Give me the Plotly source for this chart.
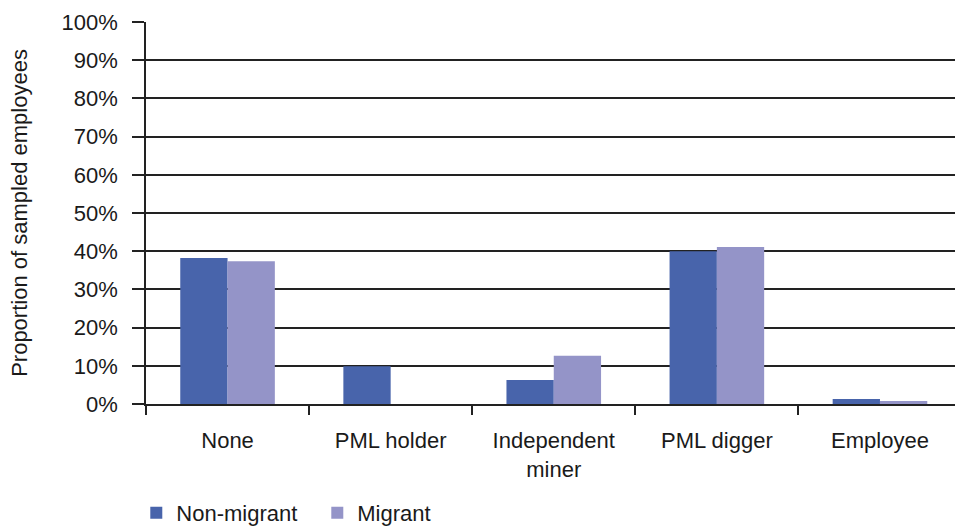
import plotly.graph_objects as go

# occupation before mining, by migrant status
categories = ["None", "PML holder", "Independent<br>miner", "PML digger", "Employee"]
non_migrant = [0.382, 0.099, 0.063, 0.400, 0.013]
migrant = [0.374, 0.0, 0.126, 0.411, 0.008]
y_ticks = [i / 10 for i in range(11)]
y_labels = [f"{i * 10}%" for i in range(11)]

font_family = "Liberation Sans, Arial, sans-serif"

fig = go.Figure()
fig.add_trace(go.Bar(x=categories, y=non_migrant, name="Non-migrant",
                     marker=dict(color="#4864AB", line=dict(width=0))))
fig.add_trace(go.Bar(x=categories, y=migrant, name="Migrant",
                     marker=dict(color="#9494C8", line=dict(width=0))))

fig.update_layout(
    width=955, height=527,
    margin=dict(l=146, r=0, t=22, b=123, autoexpand=False),
    plot_bgcolor="white", paper_bgcolor="white",
    barmode="group", bargap=0.42, bargroupgap=0,
    font=dict(family=font_family, size=22, color="#1a1a1a"),
    showlegend=True,
    legend=dict(orientation="h", x=-0.012, y=-0.285, yanchor="middle", xanchor="left",
                font=dict(size=22), itemwidth=30, traceorder="normal",
                entrywidth=136, entrywidthmode="pixels"),
)
fig.update_xaxes(
    range=[-0.5, 4.46],
    showline=True, linecolor="#222", linewidth=1.5,
    ticks="outside", tickson="boundaries", ticklen=9, tickcolor="#222", tickwidth=1.5,
    showgrid=False, tickfont=dict(size=22), ticklabelstandoff=16,
)
fig.update_yaxes(
    range=[0, 1.0], tickvals=y_ticks, ticktext=y_labels,
    showline=True, linecolor="#222", linewidth=1.5,
    ticks="outside", ticklen=12, tickcolor="#222", tickwidth=1.5,
    showgrid=True, gridcolor="#222", gridwidth=1.5,
    zeroline=False, ticklabelstandoff=10,
    title=dict(text="Proportion of sampled employees", font=dict(size=22), standoff=28),
    tickfont=dict(size=22),
)

fig.write_html("out.html", config={"displayModeBar": False},
               post_script="document.body.style.margin='0';")
